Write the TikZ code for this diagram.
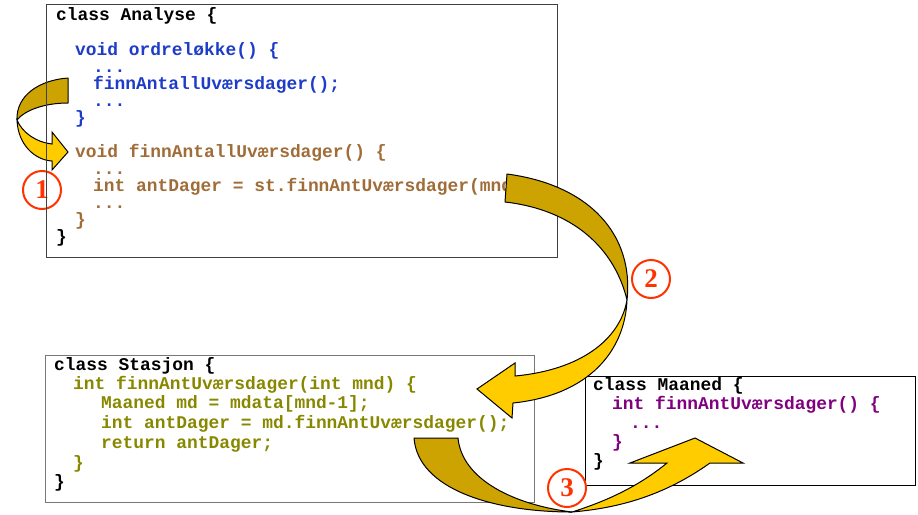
\documentclass[tikz,border=0pt]{standalone}
\usepackage{fontspec}
\setmonofont{Liberation Mono}
\newfontfamily\numfont{Liberation Serif}
\definecolor{cblue}{RGB}{30,60,200}
\definecolor{cbrown}{RGB}{160,108,56}
\definecolor{colive}{RGB}{136,136,0}
\definecolor{cpurple}{RGB}{128,0,128}
\definecolor{cred}{RGB}{255,51,0}
\definecolor{adark}{RGB}{204,163,0}
\definecolor{alight}{RGB}{255,204,0}
\definecolor{boxgrayA}{RGB}{64,64,64}
\definecolor{boxgrayS}{RGB}{120,120,120}
\tikzset{
  code/.style={anchor=base west, inner sep=0pt, font=\ttfamily\bfseries\fontsize{17.9}{20}\selectfont},
  classbox/.style={draw, line width=1pt, inner sep=0pt},
  backside/.style={fill=adark, draw=black, line width=1pt, line join=round},
  frontside/.style={fill=alight, draw=black, line width=1pt, line join=miter},
  numcirc/.style={circle, draw=cred, line width=2pt, minimum size=38pt, inner sep=0pt,
    text=cred, font=\numfont\bfseries\fontsize{27}{27}\selectfont},
}
\begin{document}
\begin{tikzpicture}[x=1pt,y=-1pt]
\useasboundingbox (0,0) rectangle (918,514);
% arrow 1
\draw[backside] (68,78) .. controls (40,80) and (16,95) .. (17,120) .. controls (25,110) and (45,103) .. (68,103) -- cycle;
\draw[frontside] (17,120) .. controls (18,145) and (35,160) .. (52,161) -- (52,170) -- (68,152) -- (52,132) -- (52,144) .. controls (35,142) and (22,132) .. (17,120) -- cycle;
\node[numcirc] (n1) at (42,190) {1};
% boxes
\node[classbox, draw=boxgrayA, minimum width=511pt, minimum height=253pt] (boxA) at (301.5,130.5) {};
\node[classbox, draw=boxgrayS, minimum width=489pt, minimum height=147pt] (boxS) at (289.5,428.5) {};
\node[classbox, draw=black, minimum width=330pt, minimum height=109pt] (boxM) at (750,430.5) {};
% Analyse
\node[code] (a1) at (56,20) {class Analyse \{};
\node[code, cblue] (a2) at (75,55) {void ordreløkke() \{};
\node[code, cblue] (a3) at (93,72) {...};
\node[code, cblue] (a4) at (93,89) {finnAntallUværsdager();};
\node[code, cblue] (a5) at (93,106) {...};
\node[code, cblue] (a6) at (75,123) {\}};
\node[code, cbrown] (a7) at (75,157) {void finnAntallUværsdager() \{};
\node[code, cbrown] (a8) at (93,174) {...};
\node[code, cbrown] (a9) at (93,191) {int antDager = st.finnAntUværsdager(mnd);};
\node[code, cbrown] (a10) at (93,208) {...};
\node[code, cbrown] (a11) at (75,225) {\}};
\node[code] (a12) at (56,242) {\}};
% Stasjon
\node[code] (s1) at (54,370) {class Stasjon \{};
\node[code, colive] (s2) at (73,389) {int finnAntUværsdager(int mnd) \{};
\node[code, colive] (s3) at (101,408) {Maaned md = mdata[mnd-1];};
\node[code, colive] (s4) at (101,428) {int antDager = md.finnAntUværsdager();};
\node[code, colive] (s5) at (101,448) {return antDager;};
\node[code, colive] (s6) at (73,468) {\}};
\node[code] (s7) at (54,487) {\}};
% Maaned
\node[code] (m1) at (593,390) {class Maaned \{};
\node[code, cpurple] (m2) at (612,409) {int finnAntUværsdager() \{};
\node[code, cpurple] (m3) at (630,428) {...};
\node[code, cpurple] (m4) at (612,447) {\}};
\node[code] (m5) at (593,466) {\}};
% arrow 2
\draw[backside] (507,174) .. controls (590,185) and (634,235) .. (627,300) .. controls (615,250) and (575,210) .. (505,202) -- cycle;
\draw[frontside] (627,300) .. controls (625,350) and (590,395) .. (513,403) -- (512,418) -- (477,389) -- (515,363) -- (515,376) .. controls (580,370) and (620,340) .. (627,300) -- cycle;
\node[numcirc, fill=white] (n2) at (651,279) {2};
% arrow 3
\draw[backside] (414,438) .. controls (418,490) and (495,512) .. (572,512) .. controls (515,505) and (462,480) .. (458,438) -- cycle;
\draw[frontside] (572,512) .. controls (620,508) and (665,495) .. (710,463) -- (743,463) -- (695,438) -- (630,463) -- (667,463) .. controls (640,485) and (610,500) .. (572,512) -- cycle;
\node[numcirc, fill=white] (n3) at (567,488) {3};
\end{tikzpicture}
\end{document}
